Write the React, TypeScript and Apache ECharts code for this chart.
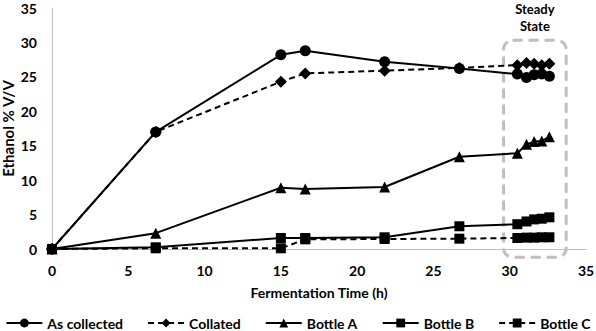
import React, { useEffect, useRef } from "react";
import * as echarts from "echarts";

const times = [0, 6.8, 15, 16.6, 21.8, 26.7, 30.5, 31.1, 31.6, 32.1, 32.6];
const asCollected = [0, 17, 28.2, 28.8, 27.2, 26.2, 25.4, 24.9, 25.3, 25.4, 25.1];
const collated = [0, 17, 24.3, 25.5, 25.9, 26.3, 26.7, 27.0, 26.9, 26.7, 26.9];
const bottleA = [0, 2.3, 8.9, 8.7, 9.0, 13.4, 13.9, 15.2, 15.6, 15.7, 16.3];
const bottleB = [0, 0.25, 1.6, 1.6, 1.7, 3.3, 3.6, 4.0, 4.3, 4.4, 4.6];
const bottleC = [0, 0.1, 0.1, 1.4, 1.45, 1.5, 1.6, 1.65, 1.65, 1.7, 1.7];

const steadyBox = { x0: 29.6, x1: 33.7, y0: -1.2, y1: 30.3 };
const steadyLabel = "Steady\nState";

const FONT = "Lato";

function pairs(vals: number[]) {
  return vals.map((v, i) => [times[i], v]);
}

export default function App() {
  const ref = useRef<HTMLDivElement>(null);
  useEffect(() => {
    document.body.style.margin = "0";
    const chart = echarts.init(ref.current!, null, { renderer: "svg" });
    const mk = (name: string, data: number[], symbol: string, size: number, dashed: boolean) => ({
      name,
      type: "line",
      data: pairs(data),
      symbol,
      symbolSize: size,
      showSymbol: true,
      itemStyle: { color: "#000" },
      lineStyle: { color: "#000", width: 2, type: dashed ? [6, 4] : "solid" },
    });
    const axisText = { fontFamily: FONT, fontWeight: "bold", fontSize: 14, color: "#000" };
    chart.setOption({
      animation: false,
      textStyle: { fontFamily: FONT },
      grid: { left: 52, right: 10, top: 8, bottom: 82, containLabel: false, outerBoundsMode: "none" },
      xAxis: {
        type: "value",
        min: 0,
        max: 35,
        interval: 5,
        name: "Fermentation Time (h)",
        nameLocation: "middle",
        nameGap: 36,
        nameTextStyle: axisText,
        axisLine: { show: true, lineStyle: { color: "#bfbfbf", width: 1 } },
        axisTick: { show: false },
        splitLine: { show: false },
        axisLabel: { ...axisText, margin: 14 },
      },
      yAxis: {
        type: "value",
        min: 0,
        max: 35,
        interval: 5,
        name: "Ethanol % V/V",
        nameLocation: "middle",
        nameGap: 37,
        nameMoveOverlap: false,
        nameTextStyle: { ...axisText, fontSize: 15 },
        axisLine: { show: true, lineStyle: { color: "#bfbfbf", width: 1 } },
        axisTick: { show: false },
        splitLine: { show: false },
        axisLabel: { ...axisText, margin: 15 },
      },
      legend: {
        left: "center",
        top: 316,
        padding: 0,
        itemWidth: 36,
        itemHeight: 11,
        itemGap: 24,
        textStyle: { fontFamily: FONT, fontWeight: "bold", fontSize: 14, color: "#000" },
        data: ["As collected", "Collated", "Bottle A", "Bottle B", "Bottle C"],
      },
      series: [
        mk("As collected", asCollected, "circle", 11, false),
        mk("Collated", collated, "diamond", 12, true),
        mk("Bottle A", bottleA, "triangle", 11, false),
        mk("Bottle B", bottleB, "rect", 10, false),
        mk("Bottle C", bottleC, "rect", 10, true),
      ],
    });
    const p0 = chart.convertToPixel({ gridIndex: 0 }, [steadyBox.x0, steadyBox.y1]) as number[];
    const p1 = chart.convertToPixel({ gridIndex: 0 }, [steadyBox.x1, steadyBox.y0]) as number[];
    chart.setOption({
      graphic: [
        {
          type: "rect",
          shape: { x: p0[0], y: p0[1], width: p1[0] - p0[0], height: p1[1] - p0[1], r: 9 },
          style: { fill: "none", stroke: "#bfbfbf", lineWidth: 3, lineDash: [10, 6] },
          z: 1,
        },
        {
          type: "text",
          x: (p0[0] + p1[0]) / 2,
          y: 0,
          style: {
            text: steadyLabel,
            fontFamily: FONT,
            fontWeight: "bold",
            fontSize: 13,
            fill: "#000",
            align: "center",
            verticalAlign: "top",
            lineHeight: 17,
          },
        },
      ],
    });
    return () => chart.dispose();
  }, []);
  return <div ref={ref} style={{ width: 596, height: 331, position: "absolute", left: 0, top: 0 }} />;
}
